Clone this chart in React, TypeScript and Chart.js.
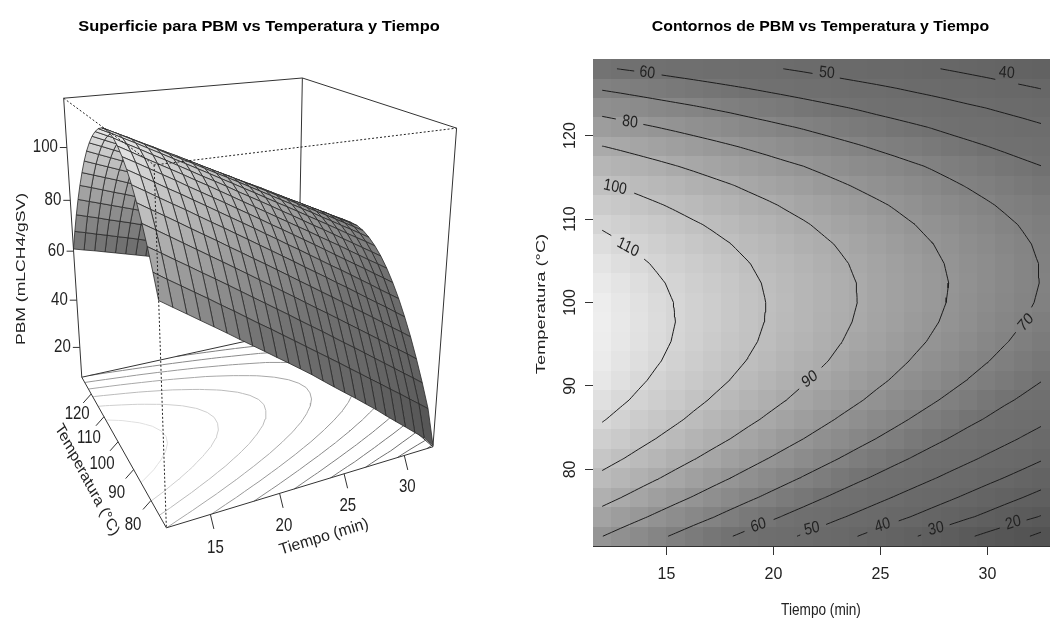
import { useEffect, useRef } from "react";
import { Chart, registerables } from "chart.js";
Chart.register(...registerables);

const tiempo = [12, 12.85, 13.71, 14.56, 15.42, 16.27, 17.13, 17.98, 18.83, 19.69, 20.54, 21.4, 22.25, 23.1, 23.96, 24.81, 25.67, 26.52, 27.38, 28.23, 29.08, 29.94, 30.79, 31.65, 32.5];
const temperatura = [72, 74.33, 76.67, 79, 81.33, 83.67, 86, 88.33, 90.67, 93, 95.33, 97.67, 100, 102.33, 104.67, 107, 109.33, 111.67, 114, 116.33, 118.67, 121, 123.33, 125.67, 128];
// filas: temperatura; columnas: tiempo
const pbm = [
[80.1,77.3,74.5,71.7,68.9,66.1,63.2,60.4,57.6,54.7,51.9,49.0,46.1,43.0,39.9,36.9,33.9,30.8,27.7,24.4,21.2,18.0,14.8,11.6,7.5],
[86.8,84.0,81.3,78.6,75.9,73.1,70.4,67.6,64.8,62.1,59.3,56.5,53.7,50.9,48.1,45.3,42.4,39.6,36.7,33.9,31.0,28.2,25.3,22.4,19.5],
[92.8,90.2,87.5,84.9,82.2,79.6,76.9,74.2,71.5,68.8,66.1,63.4,60.6,57.9,55.2,52.4,49.6,46.9,44.1,41.3,38.5,35.7,32.9,30.1,27.3],
[98.2,95.7,93.1,90.5,87.9,85.3,82.7,80.1,77.5,74.8,72.2,69.5,66.9,64.2,61.5,58.9,56.2,53.5,50.8,48.1,45.4,42.6,39.9,37.2,34.4],
[103.0,100.5,98.0,95.5,92.9,90.4,87.9,85.3,82.8,80.2,77.7,75.1,72.5,69.9,67.3,64.7,62.1,59.5,56.8,54.2,51.6,48.9,46.2,43.6,40.9],
[107.1,104.7,102.2,99.8,97.4,94.9,92.4,90.0,87.5,85.0,82.5,80.0,77.5,75.0,72.4,69.9,67.4,64.8,62.3,59.7,57.1,54.5,52.0,49.3,46.7],
[110.5,108.2,105.8,103.4,101.1,98.7,96.3,93.9,91.5,89.1,86.7,84.2,81.8,79.3,76.9,74.4,71.9,69.4,67.0,64.5,62.0,59.5,56.9,54.4,51.9],
[113.3,111.1,108.8,106.5,104.2,101.8,99.5,97.2,94.9,92.5,90.2,87.8,85.4,83.1,80.7,78.3,75.9,73.5,71.0,68.6,66.2,63.8,61.3,58.9,56.4],
[115.5,113.3,111.0,108.8,106.6,104.4,102.1,99.9,97.6,95.3,93.0,90.7,88.4,86.1,83.8,81.5,79.2,76.8,74.5,72.2,69.8,67.4,65.0,62.7,60.3],
[117.0,114.8,112.7,110.5,108.4,106.2,104.0,101.8,99.7,97.5,95.2,93.0,90.8,88.6,86.3,84.1,81.8,79.5,77.3,75.0,72.7,70.4,68.1,65.8,63.5],
[117.8,115.7,113.7,111.6,109.5,107.4,105.3,103.2,101.1,98.9,96.8,94.6,92.5,90.3,88.1,86.0,83.8,81.6,79.4,77.2,75.0,72.7,70.5,68.3,66.0],
[118.0,116.0,114.0,112.0,110.0,107.9,105.9,103.9,101.8,99.7,97.7,95.6,93.5,91.4,89.3,87.2,85.1,83.0,80.9,78.7,76.6,74.4,72.3,70.1,67.9],
[117.5,115.6,113.7,111.7,109.8,107.8,105.9,103.9,101.9,99.9,97.9,95.9,93.9,91.9,89.9,87.8,85.8,83.7,81.7,79.6,77.6,75.5,73.4,71.3,69.2],
[116.4,114.5,112.7,110.8,109.0,107.1,105.2,103.3,101.4,99.4,97.5,95.6,93.6,91.7,89.8,87.8,85.8,83.8,81.9,79.9,77.9,75.9,73.8,71.8,69.8],
[114.6,112.8,111.0,109.3,107.5,105.6,103.8,102.0,100.2,98.3,96.5,94.6,92.7,90.9,89.0,87.1,85.2,83.3,81.4,79.4,77.5,75.6,73.6,71.7,69.7],
[112.2,110.5,108.8,107.0,105.3,103.6,101.8,100.1,98.3,96.5,94.7,93.0,91.2,89.4,87.6,85.7,83.9,82.1,80.2,78.4,76.5,74.7,72.8,70.9,69.0],
[109.1,107.5,105.8,104.2,102.5,100.8,99.2,97.5,95.8,94.1,92.4,90.7,88.9,87.2,85.5,83.7,82.0,80.2,78.4,76.7,74.9,73.1,71.3,69.5,67.7],
[105.4,103.8,102.2,100.6,99.0,97.4,95.8,94.2,92.6,91.0,89.3,87.7,86.0,84.4,82.7,81.1,79.4,77.7,76.0,74.3,72.6,70.8,69.1,67.4,65.6],
[101.0,99.5,98.0,96.5,95.0,93.4,91.9,90.4,88.8,87.2,85.7,84.1,82.5,80.9,79.3,77.7,76.1,74.5,72.9,71.2,69.6,68.0,66.3,64.6,63.0],
[95.9,94.5,93.1,91.7,90.2,88.8,87.3,85.8,84.4,82.9,81.4,80.0,78.5,77.0,75.5,74.0,72.4,70.9,69.4,67.9,66.3,64.8,63.2,61.6,60.1],
[90.2,88.9,87.5,86.1,84.8,83.4,82.0,80.6,79.2,77.8,76.4,74.9,73.5,72.1,70.6,69.1,67.7,66.2,64.7,63.2,61.7,60.2,58.7,57.2,55.6],
[83.9,82.6,81.3,80.0,78.7,77.4,76.1,74.8,73.4,72.1,70.7,69.4,68.0,66.6,65.3,63.9,62.5,61.1,59.7,58.2,56.8,55.4,53.9,52.5,51.0],
[76.9,75.7,74.5,73.2,72.0,70.8,69.5,68.3,67.0,65.7,64.5,63.2,61.9,60.6,59.3,57.9,56.6,55.3,53.9,52.6,51.2,49.9,48.5,47.1,45.7],
[69.2,68.1,66.9,65.8,64.6,63.5,62.3,61.1,59.9,58.7,57.5,56.3,55.1,53.8,52.6,51.4,50.1,48.8,47.6,46.3,45.0,43.7,42.4,41.1,39.8],
[60.9,59.8,58.8,57.7,56.6,55.5,54.4,53.3,52.2,51.0,49.9,48.8,47.6,46.5,45.3,44.1,43.0,41.8,40.6,39.4,38.2,37.0,35.7,34.5,33.2],
];
const nivelesContorno = [10, 20, 30, 40, 50, 60, 70, 80, 90, 100, 110];
const grisContornoSuelo = ["#666666", "#6a6a6a", "#707070", "#787878", "#808080", "#8a8a8a", "#989898", "#a8a8a8", "#bbbbbb", "#cfcfcf", "#e0e0e0"];
const rampaValor = [10, 40, 60, 70, 80, 90, 100, 110, 118];
const rampaGris = [83, 103, 113, 130, 149, 170, 191, 214, 238];
// [nivel, tiempo, temperatura, ángulo]
const etiquetasContorno = [
  [110, 13.2, 106.6, 30], [100, 12.6, 113.8, 14], [80, 13.3, 121.6, 8], [60, 14.1, 127.5, 8],
  [50, 22.5, 127.5, 6], [40, 30.9, 127.5, 6], [70, 31.8, 97.6, -50], [90, 21.7, 90.8, -38],
  [60, 19.3, 73.3, -20], [50, 21.8, 72.9, -15], [40, 25.1, 73.3, -20], [30, 27.6, 72.9, -15], [20, 31.2, 73.6, -18],
];
const ticksTiempo = [15, 20, 25, 30];
const ticksTemperatura = [80, 90, 100, 110, 120];
const ticksPBM = [20, 40, 60, 80, 100];
const tituloIzq = "Superficie para PBM vs Temperatura y Tiempo";
const tituloDer = "Contornos de PBM vs Temperatura y Tiempo";
const zMin = 7, zMax = 118;

// calibración de la perspectiva: esquinas de la caja (x, y, z normalizados -> lienzo)
const camara = [
  [0, 0, 0, 165.7, 528], [1, 0, 0, 432.7, 446.7], [0, 1, 0, 82, 377], [1, 1, 0, 298, 330],
  [0, 0, 1, 155, 165], [1, 0, 1, 456.7, 128], [0, 1, 1, 63.3, 98.3], [1, 1, 1, 302, 78],
];

function solveCamera(): number[] {
  const n = 11;
  const A = Array.from({ length: n }, () => new Array(n + 1).fill(0));
  const add = (r: number[], b: number) => {
    for (let i = 0; i < n; i++) {
      for (let k = 0; k < n; k++) A[i][k] += r[i] * r[k];
      A[i][n] += r[i] * b;
    }
  };
  for (const [X, Y, Z, u, v] of camara) {
    add([X, Y, Z, 1, 0, 0, 0, 0, -u * X, -u * Y, -u * Z], u);
    add([0, 0, 0, 0, X, Y, Z, 1, -v * X, -v * Y, -v * Z], v);
  }
  for (let c = 0; c < n; c++) {
    let p = c;
    for (let r = c + 1; r < n; r++) if (Math.abs(A[r][c]) > Math.abs(A[p][c])) p = r;
    [A[c], A[p]] = [A[p], A[c]];
    for (let r = 0; r < n; r++) {
      if (r === c) continue;
      const f = A[r][c] / A[c][c];
      for (let k = c; k <= n; k++) A[r][k] -= f * A[c][k];
    }
  }
  return A.map((row, i) => row[n] / row[i]);
}
const P = solveCamera();
function projectN(x: number, y: number, z: number) {
  const w = P[8] * x + P[9] * y + P[10] * z + 1;
  return { x: (P[0] * x + P[1] * y + P[2] * z + P[3]) / w, y: (P[4] * x + P[5] * y + P[6] * z + P[7]) / w };
}
const T0 = tiempo[0], T1 = tiempo[24], C0 = temperatura[0], C1 = temperatura[24];
const project = (t: number, c: number, v: number) =>
  projectN((t - T0) / (T1 - T0), (c - C0) / (C1 - C0), (v - zMin) / (zMax - zMin));

function gris(v: number) {
  let g = rampaGris[rampaGris.length - 1];
  if (v <= rampaValor[0]) g = rampaGris[0];
  else
    for (let k = 0; k < rampaValor.length - 1; k++)
      if (v <= rampaValor[k + 1]) {
        g = rampaGris[k] + ((v - rampaValor[k]) / (rampaValor[k + 1] - rampaValor[k])) * (rampaGris[k + 1] - rampaGris[k]);
        break;
      }
  const h = Math.round(g);
  return `rgb(${h},${h},${h})`;
}

type Pt = [number, number];
function contourChains(level: number): Pt[][] {
  const segs: [Pt, Pt][] = [];
  for (let j = 0; j < 24; j++)
    for (let i = 0; i < 24; i++) {
      const c = [[i, j], [i + 1, j], [i + 1, j + 1], [i, j + 1]];
      const pts: Pt[] = [];
      for (let e = 0; e < 4; e++) {
        const [ai, aj] = c[e], [bi, bj] = c[(e + 1) % 4];
        const va = pbm[aj][ai], vb = pbm[bj][bi];
        if (va >= level !== vb >= level) {
          const f = (level - va) / (vb - va);
          pts.push([
            tiempo[ai] + f * (tiempo[bi] - tiempo[ai]),
            temperatura[aj] + f * (temperatura[bj] - temperatura[aj]),
          ]);
        }
      }
      if (pts.length === 2) segs.push([pts[0], pts[1]]);
      if (pts.length === 4) {
        segs.push([pts[0], pts[1]]);
        segs.push([pts[2], pts[3]]);
      }
    }
  const close = (a: Pt, b: Pt) => Math.abs(a[0] - b[0]) < 1e-6 && Math.abs(a[1] - b[1]) < 1e-6;
  const out: Pt[][] = [];
  while (segs.length) {
    const s = segs.pop()!;
    const ch: Pt[] = [s[0], s[1]];
    let grown = true;
    while (grown) {
      grown = false;
      for (let k = 0; k < segs.length; k++) {
        const [a, b] = segs[k];
        const last = ch[ch.length - 1];
        if (close(a, last)) ch.push(b);
        else if (close(b, last)) ch.push(a);
        else if (close(a, ch[0])) ch.unshift(b);
        else if (close(b, ch[0])) ch.unshift(a);
        else continue;
        segs.splice(k, 1);
        grown = true;
        break;
      }
    }
    out.push(ch);
  }
  return out;
}

const SX = 0.94, SY = 1.1;
function texto(ctx: CanvasRenderingContext2D, s: string, x: number, y: number, size: number, o: any = {}) {
  const sx = o.sx ?? SX, sy = o.sy ?? SY;
  const a = ((o.angle ?? 0) * Math.PI) / 180;
  const a2 = Math.atan2(Math.sin(a) / sy, Math.cos(a) / sx);
  ctx.save();
  ctx.translate(x, y);
  ctx.scale(sx, sy);
  ctx.rotate(a2);
  ctx.font = `${o.bold ? "bold " : ""}${size}px "Liberation Sans"`;
  ctx.fillStyle = o.color ?? "#222";
  ctx.textAlign = o.align ?? "center";
  ctx.textBaseline = "middle";
  ctx.fillText(s, 0, 0);
  ctx.restore();
}

const surfacePlugin = {
  id: "superficie",
  beforeDatasetDraw(chart: any, args: any) {
    if (chart.data.datasets[args.index].label !== "caja-frontal") return;
    const { ctx, scales } = chart;
    const px = (p: { x: number; y: number }) => [scales.x.getPixelForValue(p.x), scales.y.getPixelForValue(p.y)];
    ctx.save();
    ctx.lineWidth = 0.8;
    ctx.strokeStyle = "#2a2a2a";
    for (let i = 23; i >= 0; i--)
      for (let j = 23; j >= 0; j--) {
        const corners = [[i, j], [i + 1, j], [i + 1, j + 1], [i, j + 1]];
        let avg = 0;
        ctx.beginPath();
        corners.forEach(([a, b], k) => {
          avg += pbm[b][a] / 4;
          const [x, y] = px(project(tiempo[a], temperatura[b], pbm[b][a]));
          if (k === 0) ctx.moveTo(x, y);
          else ctx.lineTo(x, y);
        });
        ctx.closePath();
        ctx.fillStyle = gris(avg);
        ctx.fill();
        ctx.stroke();
      }
    ctx.restore();
  },
  afterDraw(chart: any) {
    const { ctx, scales } = chart;
    const X = (v: number) => scales.x.getPixelForValue(v);
    const Y = (v: number) => scales.y.getPixelForValue(v);
    texto(ctx, tituloIzq, X(259), Y(27), 15, { bold: true, color: "#000", sx: 1.094, sy: 1 });
    texto(ctx, "PBM (mLCH4/gSV)", X(21), Y(269), 14.5, { angle: -90, sy: 1.21 });
    ticksPBM.forEach((v) => {
      const p = project(T0, C1, v);
      texto(ctx, String(v), X(p.x - 9), Y(p.y), 16, { align: "right" });
    });
    ticksTemperatura.forEach((v, k) => {
      const p = project(T0, v, zMin);
      const f = k / 4;
      texto(ctx, String(v), X(p.x - 18 + 4 * f), Y(p.y + 25 - 5 * f), 16);
    });
    ticksTiempo.forEach((v, k) => {
      const p = project(v, C0, zMin);
      const f = k / 3;
      texto(ctx, String(v), X(p.x + 5 - 2 * f), Y(p.y + 34 - 2.5 * f), 16);
    });
    texto(ctx, "Temperatura (°C)", X(87), Y(480), 15.2, { angle: 62 });
    texto(ctx, "Tiempo (min)", X(324), Y(537), 14.5, { angle: -17, sx: 1.09 });
  },
};

function leftData() {
  const ds: any[] = [];
  const line = (label: string, data: any[], color: string, extra: any = {}) =>
    ds.push({ label, data, showLine: true, pointRadius: 0, borderColor: color, borderWidth: 1, tension: 0, order: 1, ...extra });
  const corner = (x: number, y: number, z: number) => projectN(x, y, z);
  const back = [
    corner(0, 0, 0), corner(1, 0, 0), corner(1, 0, 1), corner(1, 1, 1), corner(0, 1, 1), corner(0, 1, 0), corner(0, 0, 0),
    { x: 0, y: null }, corner(0, 1, 0), corner(1, 1, 0), corner(1, 1, 1), { x: 0, y: null }, corner(1, 1, 0), corner(1, 0, 0),
  ];
  line("caja-fondo", back, "#333");
  nivelesContorno.forEach((lv, k) => {
    const data: any[] = [];
    contourChains(lv).forEach((ch) => {
      ch.forEach(([t, c]) => data.push(project(t, c, zMin)));
      data.push({ x: 0, y: null });
    });
    line("suelo-" + lv, data, grisContornoSuelo[k]);
  });
  const ticks: any[] = [];
  const seg = (p: { x: number; y: number }, dx: number, dy: number) => {
    ticks.push(p, { x: p.x + dx, y: p.y + dy }, { x: 0, y: null });
  };
  ticksPBM.forEach((v) => seg(project(T0, C1, v), -7, 0));
  ticksTemperatura.forEach((v) => seg(project(T0, v, zMin), -8, 9));
  ticksTiempo.forEach((v) => seg(project(v, C0, zMin), 3.5, 14.5));
  line("marcas", ticks, "#333");
  line("caja-frontal", [corner(0, 1, 1), corner(0, 0, 1), corner(1, 0, 1), { x: 0, y: null }, corner(0, 0, 1), corner(0, 0, 0)], "#222", {
    borderDash: [2, 2],
    order: 0,
  });
  return ds;
}

const PXT = 21.4, PXC = 8.33;
function rightData() {
  return nivelesContorno.map((lv) => {
    const labels = etiquetasContorno.filter((e) => e[0] === lv);
    const gap = lv >= 100 ? 17 : 13;
    const inGap = (t: number, c: number) =>
      labels.some((e) => Math.hypot((t - e[1]) * PXT, (c - e[2]) * PXC) < gap);
    const data: any[] = [];
    contourChains(lv).forEach((ch) => {
      let open = false;
      for (let k = 0; k < ch.length - 1; k++) {
        for (let s = 0; s <= 4; s++) {
          if (s === 4 && k < ch.length - 2) continue;
          const t = ch[k][0] + (s / 4) * (ch[k + 1][0] - ch[k][0]);
          const c = ch[k][1] + (s / 4) * (ch[k + 1][1] - ch[k][1]);
          if (inGap(t, c)) {
            if (open) data.push({ x: t, y: null });
            open = false;
          } else {
            data.push({ x: t, y: c });
            open = true;
          }
        }
      }
      data.push({ x: 0, y: null });
    });
    return { label: "contorno-" + lv, data, showLine: true, pointRadius: 0, borderColor: "#1c1c1c", borderWidth: 1, tension: 0 };
  });
}

const heatPlugin = {
  id: "celdas",
  beforeDatasetsDraw(chart: any) {
    const { ctx, scales } = chart;
    const dt = (tiempo[1] - tiempo[0] + tiempo[24] - tiempo[23]) / 2;
    const dc = (temperatura[24] - temperatura[0]) / 24;
    for (let j = 0; j < 25; j++)
      for (let i = 0; i < 25; i++) {
        const x0 = Math.round(scales.x.getPixelForValue(tiempo[i] - dt / 2));
        const x1 = Math.round(scales.x.getPixelForValue(tiempo[i] + dt / 2));
        const y0 = Math.round(scales.y.getPixelForValue(temperatura[j] + dc / 2));
        const y1 = Math.round(scales.y.getPixelForValue(temperatura[j] - dc / 2));
        ctx.fillStyle = gris(pbm[j][i]);
        ctx.fillRect(x0, y0, x1 - x0 + 1, y1 - y0);
      }
  },
  afterDraw(chart: any) {
    const { ctx, scales } = chart;
    etiquetasContorno.forEach(([lv, t, c, ang]) => {
      texto(ctx, String(lv), scales.x.getPixelForValue(t), scales.y.getPixelForValue(c), 15, { angle: ang, color: "#222" });
    });
    texto(ctx, tituloDer, 295.5, 27, 15, { bold: true, color: "#000", sx: 1.056, sy: 1 });
    texto(ctx, "Tiempo (min)", 296, 611, 14.5);
    texto(ctx, "Temperatura (°C)", 16, 304, 14.5, { angle: -90, sy: 1.26 });
  },
};

export default function App() {
  const leftRef = useRef<HTMLCanvasElement>(null);
  const rightRef = useRef<HTMLCanvasElement>(null);
  useEffect(() => {
    const common = {
      responsive: false,
      animation: false as const,
      events: [] as any[],
      plugins: { legend: { display: false }, tooltip: { enabled: false }, title: { display: false } },
    };
    const left = new Chart(leftRef.current!, {
      type: "scatter",
      data: { datasets: leftData() },
      options: {
        ...common,
        layout: { padding: 0 },
        scales: {
          x: { type: "linear", display: false, min: 0, max: 525 },
          y: { type: "linear", display: false, min: 0, max: 619, reverse: true },
        },
      },
      plugins: [surfacePlugin],
    } as any);
    const tickFont = { family: "Liberation Sans", size: 16 };
    const right = new Chart(rightRef.current!, {
      type: "scatter",
      data: { datasets: rightData() },
      options: {
        ...common,
        layout: { padding: { top: 59, left: 0, right: 0, bottom: 0 } },
        scales: {
          x: {
            type: "linear",
            min: 11.57,
            max: 32.92,
            afterFit(s: any) { s.height = 73; s.paddingLeft = 0; s.paddingRight = 0; },
            border: { display: true, color: "#333", width: 1 },
            grid: { drawOnChartArea: false, drawTicks: true, tickLength: 9, color: "#333" },
            ticks: { stepSize: 5, includeBounds: false, font: tickFont, color: "#222", padding: 10, maxRotation: 0, minRotation: 0 },
          },
          y: {
            type: "linear",
            min: 70.83,
            max: 129.17,
            afterFit(s: any) { s.width = 68; s.paddingTop = 0; s.paddingBottom = 0; },
            border: { display: false },
            grid: { drawOnChartArea: false, drawTicks: true, tickLength: 8, color: "#333" },
            ticks: { stepSize: 10, includeBounds: false, font: tickFont, color: "#222", padding: 1, minRotation: 90, maxRotation: 90, crossAlign: "center" },
          },
        },
      },
      plugins: [heatPlugin],
    } as any);
    return () => {
      left.destroy();
      right.destroy();
    };
  }, []);
  return (
    <div style={{ position: "absolute", left: 0, top: 0, width: 1050, height: 619, background: "#fff", overflow: "hidden" }}>
      <canvas ref={leftRef} width={525} height={619} style={{ position: "absolute", left: 0, top: 0 }} />
      <canvas ref={rightRef} width={525} height={619} style={{ position: "absolute", left: 525, top: 0 }} />
    </div>
  );
}
